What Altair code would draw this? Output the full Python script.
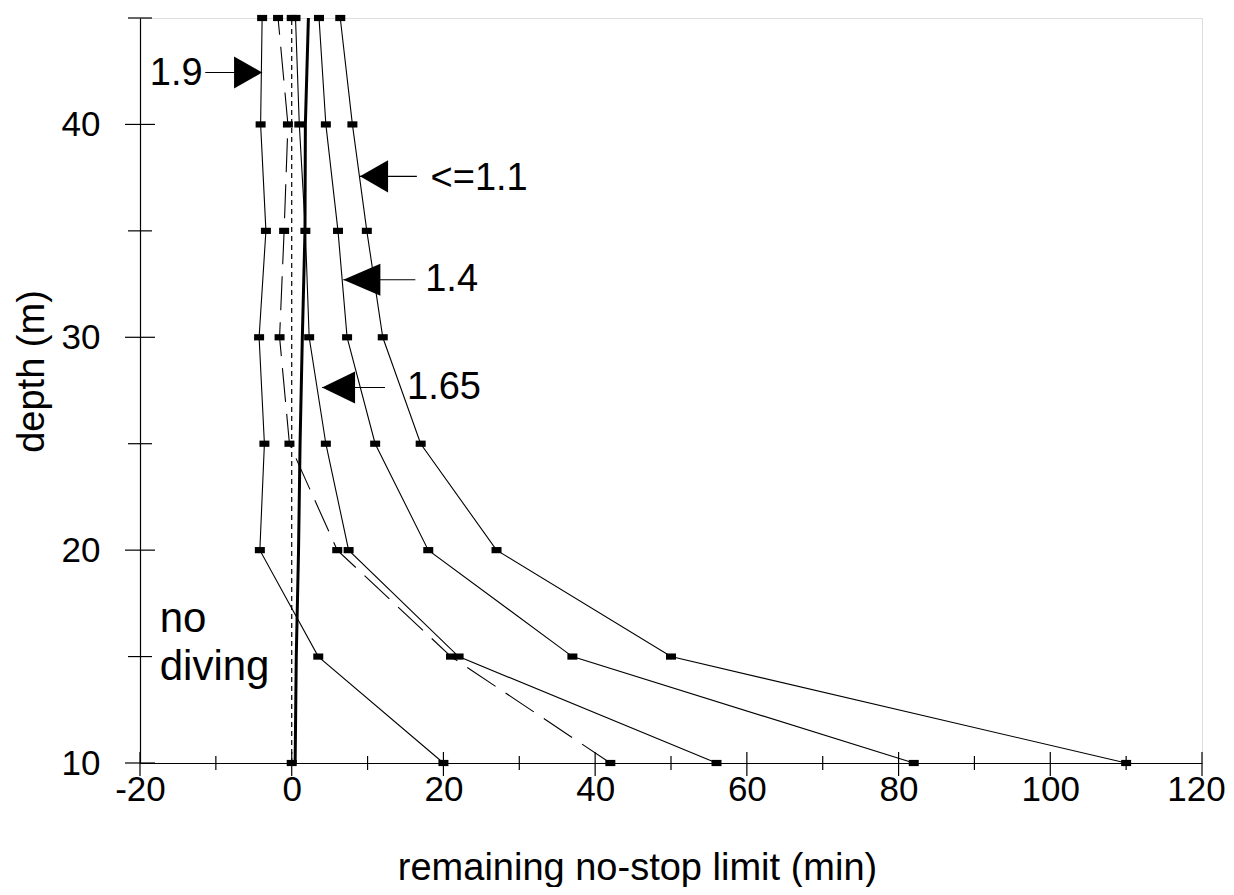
import altair as alt
import pandas as pd

# ---------------- data ----------------
depths = [10, 15, 20, 25, 30, 35, 40, 45]
nsl_le_1_1 = [110, 50, 27, 17, 12, 9.9, 8.0, 6.4]
nsl_1_4 = [82, 37, 18, 11, 7.3, 6.1, 4.5, 3.6]
nsl_1_65 = [56, 22, 7.5, 4.5, 2.3, 1.8, 1.0, 0.5]
nsl_dashed = [42, 21, 6.0, -0.3, -1.6, -1.0, -0.5, -1.8]
nsl_1_9 = [20, 3.5, -4.2, -3.6, -4.3, -3.4, -4.1, -3.9]
zero_depths = [10, 45]
nsl_zero = [0, 0]
boundary = [0.45, 0.6, 0.9, 1.1, 1.4, 1.75, 1.8, 2.2]

x_major = [-20, 0, 20, 40, 60, 80, 100, 120]
x_minor = [-10, 10, 30, 50, 70, 90, 110]
y_major = [10, 20, 30, 40]
y_minor = [15, 25, 35, 45]

ann_labels = ["1.9", "<=1.1", "1.4", "1.65"]
ann_tip_x = [-3.9, 9.0, 6.8, 4.0]
ann_tip_y = [42.44, 37.56, 32.7, 27.64]
ann_tail_x = [-11.4, 16.5, 16.3, 12.3]
ann_text_x = [-18.7, 18.3, 17.6, 15.2]
ann_text_y = [41.83, 36.9, 32.16, 27.1]

note_lines = ["no", "diving"]
note_x = [-17.4, -17.4]
note_y = [16.15, 13.9]

# ---------------- tables ----------------
solid_series = {"<=1.1": nsl_le_1_1, "1.4": nsl_1_4, "1.65": nsl_1_65, "1.9": nsl_1_9}
solid_df = pd.concat(
    [pd.DataFrame({"depth": depths, "nsl": v, "series": k}) for k, v in solid_series.items()],
    ignore_index=True,
)
dashed_df = pd.DataFrame({"depth": depths, "nsl": nsl_dashed, "series": "dashed"})
zero_df = pd.DataFrame({"depth": zero_depths, "nsl": nsl_zero, "series": "zero"})
bound_df = pd.DataFrame({"depth": depths, "nsl": boundary, "series": "boundary"})
marker_df = pd.concat([solid_df, dashed_df, zero_df], ignore_index=True)

xmaj_df = pd.DataFrame({"nsl": x_major})
xmin_df = pd.DataFrame({"nsl": x_minor})
ymaj_df = pd.DataFrame({"depth": y_major})
ymin_df = pd.DataFrame({"depth": y_minor})

ann_df = pd.DataFrame({
    "label": ann_labels, "tip": ann_tip_x, "ay": ann_tip_y,
    "tail": ann_tail_x, "tx": ann_text_x, "ty": ann_text_y,
})
head_paths = {
    "1.9": "M0,0L-1.87,-1.07L-1.87,1.07Z",
    "<=1.1": "M0,0L1.87,-1.07L1.87,1.07Z",
    "1.4": "M0,0L2.47,-1.07L2.47,1.07Z",
    "1.65": "M0,0L2.2,-1.07L2.2,1.07Z",
}
ann_df["head"] = ann_df["label"].map(head_paths)
note_df = pd.DataFrame({"text": note_lines, "nx": note_x, "ny": note_y})

# ---------------- scales / axes ----------------
FONT = "Liberation Sans"
PW, PH = 1062, 745
HYPHEN = "datum.value < 0 ? '-' + abs(datum.value) : '' + datum.value"
xs = alt.Scale(domain=[-20, 120], nice=False, zero=False)
ys = alt.Scale(domain=[10, 45], nice=False, zero=False)
xaxis = alt.Axis(
    title="remaining no-stop limit (min)", values=x_major, ticks=False, tickSize=0,
    grid=False, labelFontSize=35, titleFontSize=38, labelPadding=9, titlePadding=42,
    labelFlush=False, labelOverlap=False, domainColor="black", domainWidth=1.2,
    labelColor="black", titleColor="black", titleFontWeight="normal",
    labelFont=FONT, titleFont=FONT, labelExpr=HYPHEN, titleX=497,
    labelOffset={"condition": {"test": "datum.value == 120", "value": -6}, "value": 0},
)
yaxis = alt.Axis(
    title="depth (m)", values=y_major, ticks=False, tickSize=0, grid=False,
    labelFontSize=35, titleFontSize=38, labelPadding=40, titlePadding=10,
    labelOverlap=False, domainColor="black", domainWidth=1.2,
    labelColor="black", titleColor="black", titleFontWeight="normal",
    labelFont=FONT, titleFont=FONT, titleY=353,
)


def X(f):
    return alt.X(f"{f}:Q", scale=xs, axis=xaxis)


def Y(f):
    return alt.Y(f"{f}:Q", scale=ys, axis=yaxis)


solid = alt.Chart(solid_df).mark_line(color="black", strokeWidth=1.1).encode(
    x=X("nsl"), y=Y("depth"), detail="series:N", order="depth:Q"
)
dashed = alt.Chart(dashed_df).mark_line(color="black", strokeWidth=1.1, strokeDash=[34, 12]).encode(
    x=X("nsl"), y=Y("depth"), order="depth:Q"
)
zero = alt.Chart(zero_df).mark_line(color="black", strokeWidth=1.2, strokeDash=[5, 4]).encode(
    x=X("nsl"), y=Y("depth"), order="depth:Q"
)
bound = alt.Chart(bound_df).mark_line(color="black", strokeWidth=3).encode(
    x=X("nsl"), y=Y("depth"), order="depth:Q"
)
markers = alt.Chart(marker_df).mark_point(
    filled=True, color="black", opacity=1, shape="M-1,-0.62H1V0.62H-1Z", size=100, strokeWidth=0
).encode(x=X("nsl"), y=Y("depth"))

xmaj = alt.Chart(xmaj_df).mark_rule(color="black", strokeWidth=1.2).encode(
    x=X("nsl"), y=alt.value(PH - 11), y2=alt.value(PH + 13)
)
xmin = alt.Chart(xmin_df).mark_rule(color="black", strokeWidth=1.2).encode(
    x=X("nsl"), y=alt.value(PH - 7), y2=alt.value(PH + 7)
)
ymaj = alt.Chart(ymaj_df).mark_rule(color="black", strokeWidth=1.2).encode(
    y=Y("depth"), x=alt.value(-15), x2=alt.value(15)
)
ymin = alt.Chart(ymin_df).mark_rule(color="black", strokeWidth=1.2).encode(
    y=Y("depth"), x=alt.value(-12), x2=alt.value(12)
)

arrow_lines = alt.Chart(ann_df).mark_rule(color="black", strokeWidth=1.1).encode(
    x=X("tip"), x2="tail:Q", y=Y("ay")
)
arrow_heads = alt.Chart(ann_df).mark_point(
    filled=True, color="black", opacity=1, size=225 * 4, strokeWidth=0
).encode(x=X("tip"), y=Y("ay"), shape=alt.Shape("head:N", scale=None, legend=None))
ann_text = alt.Chart(ann_df).mark_text(
    align="left", baseline="alphabetic", font=FONT, fontSize=38, color="black"
).encode(x=X("tx"), y=Y("ty"), text="label:N")
notes = alt.Chart(note_df).mark_text(
    align="left", baseline="alphabetic", font=FONT, fontSize=42, color="black"
).encode(x=X("nx"), y=Y("ny"), text="text:N")

chart = alt.layer(
    bound, zero, dashed, solid, markers, xmaj, xmin, ymaj, ymin,
    arrow_lines, arrow_heads, ann_text, notes,
).properties(
    width=PW, height=PH,
    autosize=alt.AutoSizeParams(type="none"),
    padding={"left": 132, "top": 10, "right": 24, "bottom": 124},
).configure_view(stroke="black", strokeWidth=1.2).configure(background="white")

chart.save("out.html", embed_options={"renderer": "svg", "actions": False})
